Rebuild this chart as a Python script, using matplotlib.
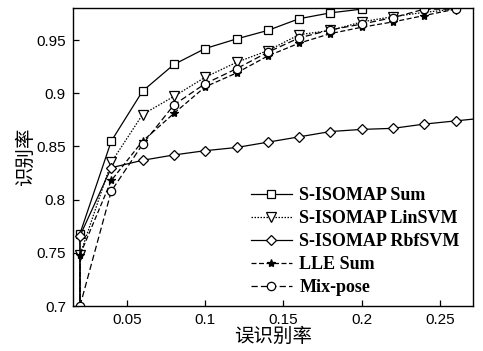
import matplotlib
matplotlib.use("Agg")
import matplotlib.pyplot as plt

fpr = [0.02, 0.02, 0.04, 0.06, 0.08, 0.10, 0.12, 0.14, 0.16, 0.18, 0.20, 0.22, 0.24, 0.26, 0.28]

sum_y = [0.60, 0.768, 0.855, 0.902, 0.927, 0.942, 0.951, 0.959, 0.970, 0.9755, 0.979]
lin_y = [0.60, 0.748, 0.835, 0.880, 0.897, 0.915, 0.929, 0.940, 0.955, 0.959, 0.967, 0.972, 0.976, 0.979]
rbf_y = [0.60, 0.766, 0.830, 0.837, 0.842, 0.846, 0.849, 0.854, 0.859, 0.864, 0.866, 0.867, 0.871, 0.874, 0.877]
lle_y = [0.60, 0.748, 0.818, 0.855, 0.881, 0.906, 0.919, 0.935, 0.947, 0.956, 0.962, 0.967, 0.973, 0.979]
mix_y = [0.700, 0.808, 0.852, 0.889, 0.909, 0.923, 0.9385, 0.952, 0.9595, 0.965, 0.971, 0.979, 0.979]
mix_x = fpr[1:14]

labels = ["S-ISOMAP Sum", "S-ISOMAP LinSVM", "S-ISOMAP RbfSVM", "LLE Sum", "Mix-pose"]
xticks = [0.05, 0.10, 0.15, 0.20, 0.25]
xticklabels = ["0.05", "0.1", "0.15", "0.2", "0.25"]
yticks = [0.70, 0.75, 0.80, 0.85, 0.90, 0.95]
yticklabels = ["0.7", "0.75", "0.8", "0.85", "0.9", "0.95"]

plt.rcParams['font.family'] = ['Liberation Sans', 'Noto Sans CJK SC', 'DejaVu Sans']

fig = plt.figure(figsize=(4.83, 3.51), dpi=100)
ax = fig.add_axes([0.151, 0.128, 0.828, 0.849])

common = dict(color='black', lw=0.9, mfc='white', mew=0.9)
ax.plot(fpr[:len(sum_y)], sum_y, ls='-', marker='s', ms=6, markevery=slice(1, None), label=labels[0], **common)
ax.plot(fpr[:len(lin_y)], lin_y, ls=(0, (1.2, 1.2)), marker='v', ms=7, markevery=slice(1, None), label=labels[1], **common)
ax.plot(fpr[:len(rbf_y)], rbf_y, ls='-', marker='D', ms=5, markevery=slice(1, 14), label=labels[2], **common)
ax.plot(fpr[:len(lle_y)], lle_y, ls=(0, (4, 2)), marker='*', ms=6, markevery=slice(1, None), label=labels[3], color='black', lw=0.9, mew=0.9)
ax.plot(mix_x, mix_y, ls=(0, (5, 2.5)), marker='o', ms=6, label=labels[4], **common)

ax.set_xlim(0.0155, 0.271)
ax.set_ylim(0.70, 0.98)
ax.set_xticks(xticks)
ax.set_xticklabels(xticklabels)
ax.set_yticks(yticks)
ax.set_yticklabels(yticklabels)
ax.tick_params(direction='in', length=4, width=0.9, labelsize=11, pad=5)
for s in ax.spines.values():
    s.set_linewidth(1.0)

ax.set_xlabel("误识别率", fontsize=14, family=['Noto Sans CJK SC'], labelpad=-1)
ax.set_ylabel("识别率", fontsize=14, family=['Noto Sans CJK SC'], labelpad=0)

leg = ax.legend(loc='lower right', frameon=False, handlelength=2.3, handletextpad=0.4,
                labelspacing=0.33, borderaxespad=0.0, bbox_to_anchor=(0.985, 0.01),
                prop={'family': 'Liberation Serif', 'weight': 'bold', 'size': 13})

fig.savefig("out.png", dpi=100)
